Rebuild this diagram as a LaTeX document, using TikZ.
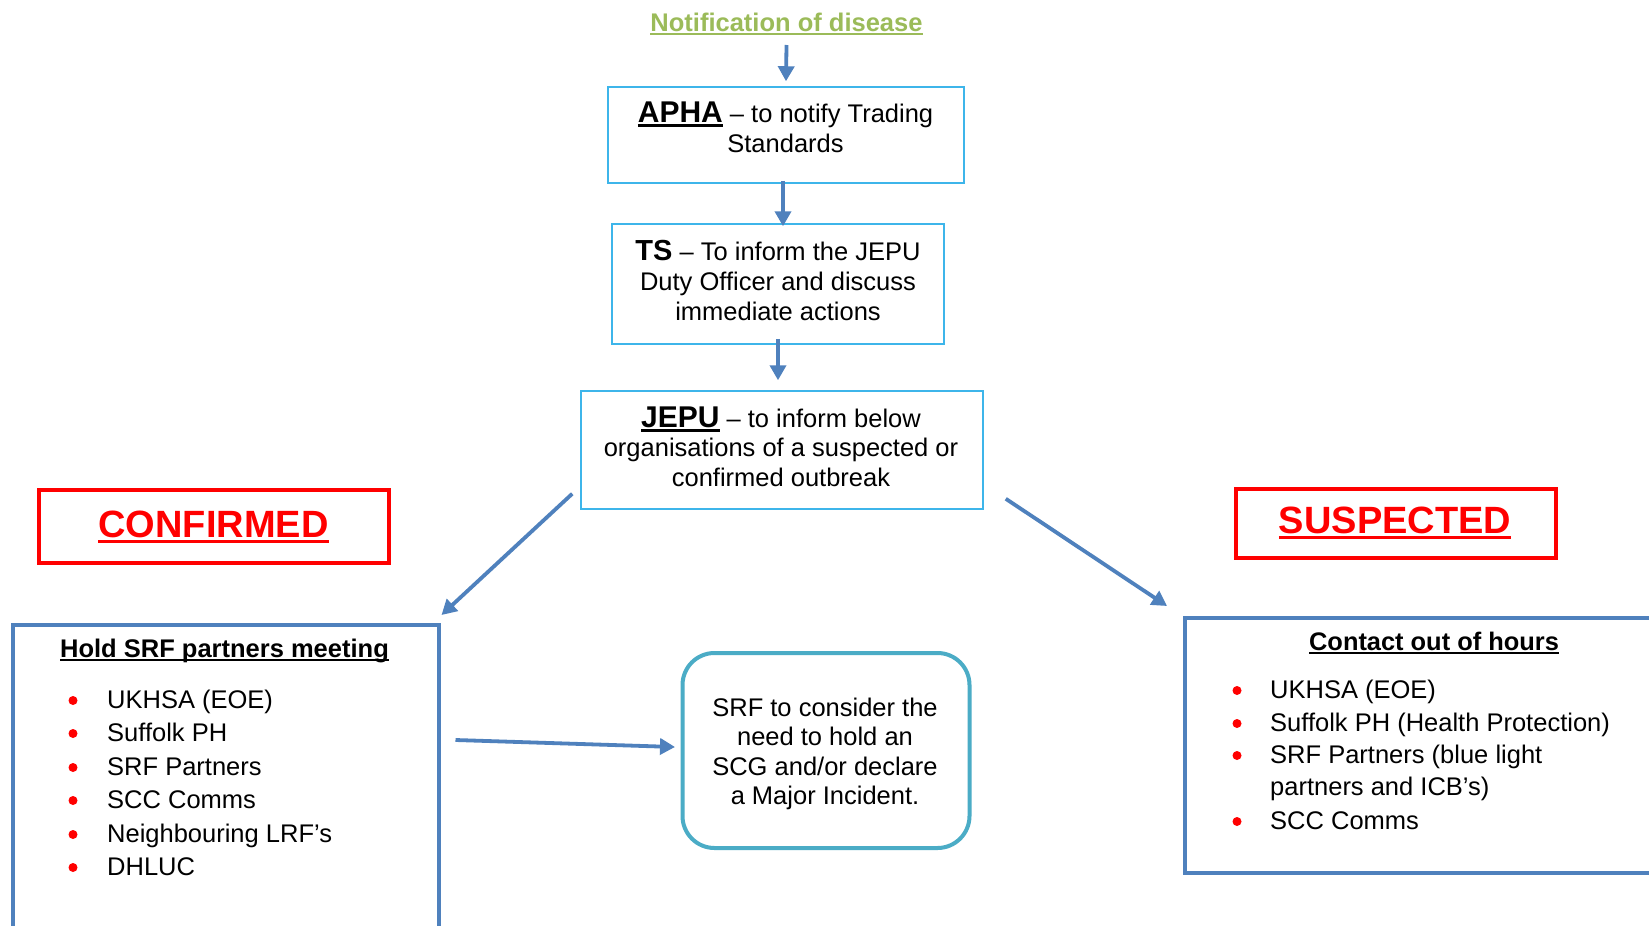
\documentclass[tikz,border=0pt]{standalone}
\usepackage{fontspec}
\setmainfont{Liberation Sans}
\usetikzlibrary{arrows.meta}
\definecolor{arrblue}{HTML}{4F81BD}
\definecolor{boxcyan}{HTML}{3DB5EA}
\definecolor{tealbox}{HTML}{4BACC6}
\definecolor{greentxt}{HTML}{9BBB59}
\definecolor{redmark}{HTML}{FF0000}
\newcommand\ulx[1]{\leavevmode\setbox0\hbox{#1}\rlap{\vrule height -0.08em depth 0.17em width \wd0}\box0}
\newcommand\fs[2]{\fontsize{#1}{#2}\selectfont}
\newcommand\lns[1]{\begin{tabular}[t]{@{}c@{}}#1\end{tabular}}
\tikzset{
  arr/.style={draw=arrblue, line width=3.8pt, -{Triangle[length=15pt,width=16pt]}},
  cbox/.style={draw=boxcyan, line width=1.5pt, inner sep=0pt, anchor=center},
  redbox/.style={draw=redmark, line width=4pt, inner sep=0pt},
  bigbox/.style={draw=arrblue, line width=3.5pt, anchor=north west, inner sep=0pt},
  txt/.style={inner sep=0pt, anchor=base, font=\fs{25.5}{30}},
  item/.style={inner sep=0pt, anchor=base west, font=\fs{25.5}{30}},
  dot/.style={fill=redmark}
}
\begin{document}
\begin{tikzpicture}[x=1pt,y=-1pt]
\useasboundingbox (0,0) rectangle (1649,926);
\fill[white] (0,0) rectangle (1649,926);
\clip (0,0) rectangle (1649,926);

% title
\node[txt, font=\bfseries\fs{25.5}{30}, text=greentxt] (notif) at (786.5,31) {\ulx{Notification of disease}};

% chain boxes
\node[cbox, minimum width=356pt, minimum height=96pt] (apha) at (786,135) {};
\node[txt] (aphaT) at (785.5,122) {\lns{{\bfseries\fs{30}{30}\ulx{APHA}} – to notify Trading\\Standards}};

\node[cbox, minimum width=332pt, minimum height=120pt] (ts) at (778,284) {};
\node[txt] (tsT) at (778,260) {\lns{{\bfseries\fs{29}{30}TS} – To inform the JEPU\\Duty Officer and discuss\\immediate actions}};

\node[cbox, minimum width=402pt, minimum height=118pt] (jepu) at (782,450) {};
\node[txt, font=\fs{25.5}{29.5}] (jepuT) at (781,427) {\lns{{\bfseries\fs{30}{29.5}\ulx{JEPU}} – to inform below\\organisations of a suspected or\\confirmed outbreak}};

% red labels
\node[redbox, minimum width=350pt, minimum height=73pt] (conf) at (214,526.5) {};
\node[txt, font=\bfseries\fs{38}{40}, text=redmark] (confT) at (213.5,537) {\ulx{CONFIRMED}};
\node[redbox, minimum width=320pt, minimum height=69pt] (susp) at (1396,523.5) {};
\node[txt, font=\bfseries\fs{38}{40}, text=redmark] (suspT) at (1395,533) {\ulx{SUSPECTED}};

% big boxes
\node[bigbox, minimum width=426pt, minimum height=340pt] (hold) at (11,623) {};
\node[txt, font=\bfseries\fs{25.5}{30}] (holdT) at (224.5,657) {\ulx{Hold SRF partners meeting}};
\foreach \y/\t [count=\i] in {708/UKHSA (EOE), 741/Suffolk PH, 775/SRF Partners, 808/SCC Comms, 842/Neighbouring LRF’s, 875/DHLUC}{
  \node[item] (L\i) at (107,\y) {\t};
  \fill[dot] (73,\y-7.5) circle (4.5pt);
}

\node[bigbox, minimum width=540pt, minimum height=255pt] (ooh) at (1183,616) {};
\node[txt, font=\bfseries\fs{25.4}{30}] (oohT) at (1434,650) {\ulx{Contact out of hours}};
\foreach \y/\t [count=\i] in {698/UKHSA (EOE), 731/Suffolk PH (Health Protection), 763/SRF Partners (blue light, 829/SCC Comms}{
  \node[item] (R\i) at (1270,\y) {\t};
  \fill[dot] (1237,\y-7.5) circle (4.5pt);
}
\node[item] (R5) at (1270,795) {partners and ICB’s)};

% middle rounded box
\node[draw=tealbox, line width=4pt, rounded corners=32pt, minimum width=287pt, minimum height=195pt] (srf) at (826,750.5) {};
\node[txt, font=\fs{25.5}{29.5}] (srfT) at (825,716) {\lns{SRF to consider the\\need to hold an\\SCG and/or declare\\a Major Incident.}};

% arrows
\draw[arr] ([yshift=-14pt]notif.base) -- ([yshift=5pt]apha.north);
\draw[arr] ([xshift=-3pt,yshift=3pt]apha.south) -- ([xshift=5pt,yshift=-3pt]ts.north);
\draw[arr] ([yshift=6pt]ts.south) -- ([xshift=-4pt,yshift=10pt]jepu.north);
\draw[arr] ([xshift=-8pt,yshift=16pt]jepu.south west) -- ([xshift=1pt,yshift=8pt]hold.north east);
\draw[arr] ([xshift=22pt,yshift=11pt]jepu.south east) -- ([xshift=-16pt,yshift=10pt]ooh.north west);
\draw[arr] ([xshift=15pt,yshift=-117pt]hold.north east) -- ([xshift=-5.5pt,yshift=3.5pt]srf.west);
\end{tikzpicture}
\end{document}
